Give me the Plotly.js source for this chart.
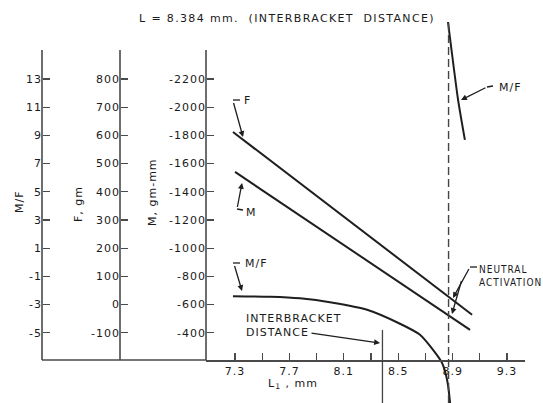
<!DOCTYPE html>
<html>
<head>
<meta charset="utf-8">
<script src="https://cdn.plot.ly/plotly-3.0.1.min.js"></script>
<style>
  html, body { margin: 0; padding: 0; background: #fff; }
  #plot { width: 543px; height: 403px; }
  #plot text { letter-spacing: 1px; }
  #plot .gtitle { letter-spacing: 1.35px; }
</style>
</head>
<body>
<div id="plot"></div>
<script>
// ---- data ----
const L_F = [7.285, 9.043];
const F_vals = [612, -36];

const L_M = [7.30, 9.028];
const M_vals = [-1541, -421];

const L_MF_left = [7.285, 7.557, 7.778, 8.02, 8.271, 8.513, 8.66, 8.756, 8.822, 8.859, 8.881, 8.885];
const MF_left = [-2.41, -2.45, -2.56, -2.87, -3.37, -4.36, -5.14, -6.21, -7.13, -8.33, -9.96, -10.6];

const L_MF_right = [8.866, 8.94, 8.99];
const MF_right = [17.04, 11.51, 8.68];

const L_neutral = 8.87;
const L_interbracket = 8.384;

const xTickVals = [7.3, 7.5, 7.7, 7.9, 8.1, 8.3, 8.5, 8.7, 8.9, 9.1, 9.3];
const xTickText = ['7.3', ' ', '7.7', ' ', '8.1', ' ', '8.5', ' ', '8.9', ' ', '9.3'];
const mfTicks = [13, 11, 9, 7, 5, 3, 1, -1, -3, -5];
const mfTickText = ['13', '11', '9', '7', '5', '3', '1', '-1', '-3', '-5'];
const fTicks = [800, 700, 600, 500, 400, 300, 200, 100, 0, -100];
const fTickText = ['800', '700', '600', '500', '400', '300', '200', '100', '0', '-100'];
const mTicks = [-2200, -2000, -1800, -1600, -1400, -1200, -1000, -800, -600, -400];
const mTickText = ['-2200', '-2000', '-1800', '-1600', '-1400', '-1200', '-1000', '-800', '-600', '-400'];

// ---- layout helpers (pixel -> paper) ----
const W = 543, H = 403;
const px = x => x / W;
const py = y => 1 - y / H;
const INK = '#1e1e1e';
const AXC = '#4a4a4a';
const FONT = 'DejaVu Sans, sans-serif';

const lineStyle = {color: INK, width: 2};

const traces = [
  {x: L_F, y: F_vals, xaxis: 'x', yaxis: 'y2', mode: 'lines', line: lineStyle, hoverinfo: 'skip'},
  {x: L_M, y: M_vals, xaxis: 'x', yaxis: 'y3', mode: 'lines', line: lineStyle, hoverinfo: 'skip'},
  {x: L_MF_left, y: MF_left, xaxis: 'x', yaxis: 'y', mode: 'lines', line: Object.assign({shape: 'spline', smoothing: 0.6}, lineStyle), hoverinfo: 'skip'},
  {x: L_MF_right, y: MF_right, xaxis: 'x', yaxis: 'y', mode: 'lines', line: Object.assign({shape: 'spline', smoothing: 0.6}, lineStyle), hoverinfo: 'skip'}
];

const tickFont = {family: FONT, size: 11, color: '#1a1a1a'};
const axisBottomY = py(360);

const commonY = {
  anchor: 'free', side: 'left', showline: false, showgrid: false, zeroline: false,
  ticks: 'inside', ticklen: 7, tickwidth: 1.3, tickcolor: AXC, tickfont: tickFont,
  tickmode: 'array', fixedrange: true
};

function seg(x0, y0, x1, y1, color, width, dash) {
  return {type: 'line', xref: 'paper', yref: 'paper', x0: px(x0), y0: py(y0), x1: px(x1), y1: py(y1),
          line: {color: color || INK, width: width || 1.3, dash: dash || 'solid'}};
}
function arrow(tx, ty, hx, hy) {
  return {xref: 'paper', yref: 'paper', x: px(hx), y: py(hy), ax: tx - hx, ay: ty - hy,
          axref: 'pixel', ayref: 'pixel', text: ' ', showarrow: true, arrowhead: 2,
          arrowsize: 0.9, arrowwidth: 1.3, arrowcolor: INK, standoff: 0, startstandoff: 0,
          font: {size: 1}};
}
function label(x, y, text, opts) {
  return Object.assign({xref: 'paper', yref: 'paper', x: px(x), y: py(y), text: text, showarrow: false,
          font: {family: FONT, size: 11, color: '#1a1a1a'}, xanchor: 'left', yanchor: 'middle', align: 'left'}, opts || {});
}

const shapes = [
  // axis lines
  seg(42, 50, 42, 360, AXC, 1.6),
  seg(120, 50, 120, 360, AXC, 1.6),
  seg(206, 50, 206, 360, AXC, 1.6),
  seg(42, 360, 206, 360, AXC, 1.6),
  // neutral activation dashed line
  {type: 'line', xref: 'x', yref: 'paper', x0: L_neutral, x1: L_neutral, y0: 0, y1: py(22),
   line: {color: '#444', width: 1.4, dash: '8px,4px'}},
  // interbracket distance line
  {type: 'line', xref: 'x', yref: 'paper', x0: L_interbracket, x1: L_interbracket, y0: 0, y1: py(330),
   line: {color: '#444', width: 1.3}},
  // leader hooks
  seg(240, 100, 233, 100),
  seg(243, 210, 237, 209),
  seg(240, 263, 233, 263),
  seg(493, 86, 487, 87),
  seg(477, 267, 470, 267)
];

const annotations = [
  // axis titles
  label(19, 203, 'M/F', {textangle: -90, xanchor: 'center'}),
  label(79, 207, 'F, gm', {textangle: -90, xanchor: 'center'}),
  label(153, 196, 'M, gm-mm', {textangle: -90, xanchor: 'center'}),
  label(289, 384, 'L<sub>1</sub> , mm', {xanchor: 'center'}),
  // curve labels
  label(242, 100, 'F'),
  label(244, 212, 'M'),
  label(243, 263, 'M/F'),
  label(497, 87, 'M/F'),
  label(244, 325, 'INTERBRACKET<br>DISTANCE', {yanchor: 'middle'}),
  label(477, 276, 'NEUTRAL<br>ACTIVATION', {yanchor: 'middle',
        font: {family: 'DejaVu Sans Condensed, DejaVu Sans, sans-serif', size: 10, color: '#1a1a1a'}}),
  // arrows
  arrow(233, 101, 243, 137),
  arrow(237, 209, 242, 183),
  arrow(234, 264, 242, 291),
  arrow(310, 333, 380, 343),
  arrow(487, 87, 461, 100),
  arrow(470, 267, 453, 298),
  arrow(462, 279, 452, 314)
];

const layout = {
  width: W, height: H,
  margin: {l: 0, r: 0, t: 0, b: 0, pad: 0},
  paper_bgcolor: '#fff', plot_bgcolor: 'rgba(0,0,0,0)',
  showlegend: false,
  title: {text: 'L = 8.384 mm.\u00a0\u00a0(INTERBRACKET\u00a0\u00a0DISTANCE)', x: px(287), y: py(18),
          xanchor: 'center', yanchor: 'middle', xref: 'paper', yref: 'paper',
          font: {family: FONT, size: 11, color: '#1a1a1a'}},
  xaxis: {
    domain: [px(206), px(525)], range: [7.0868, 9.432], anchor: 'free', position: axisBottomY,
    showline: true, linecolor: AXC, linewidth: 1.6, showgrid: false, zeroline: false,
    ticks: 'inside', ticklen: 7, tickwidth: 1.3, tickcolor: AXC, tickfont: tickFont,
    tickmode: 'array', tickvals: xTickVals, ticktext: xTickText, fixedrange: true
  },
  yaxis: Object.assign({}, commonY, {range: [-9.98, 18.60], position: px(42), tickvals: mfTicks, ticktext: mfTickText}),
  yaxis2: Object.assign({}, commonY, {overlaying: 'y', range: [-348.9, 1080.1], position: px(120), tickvals: fTicks, ticktext: fTickText}),
  yaxis3: Object.assign({}, commonY, {overlaying: 'y', range: [97.8, -2760.2], position: px(206), tickvals: mTicks, ticktext: mTickText}),
  shapes: shapes,
  annotations: annotations
};

Plotly.newPlot('plot', traces, layout, {staticPlot: true, displayModeBar: false});
</script>
</body>
</html>
